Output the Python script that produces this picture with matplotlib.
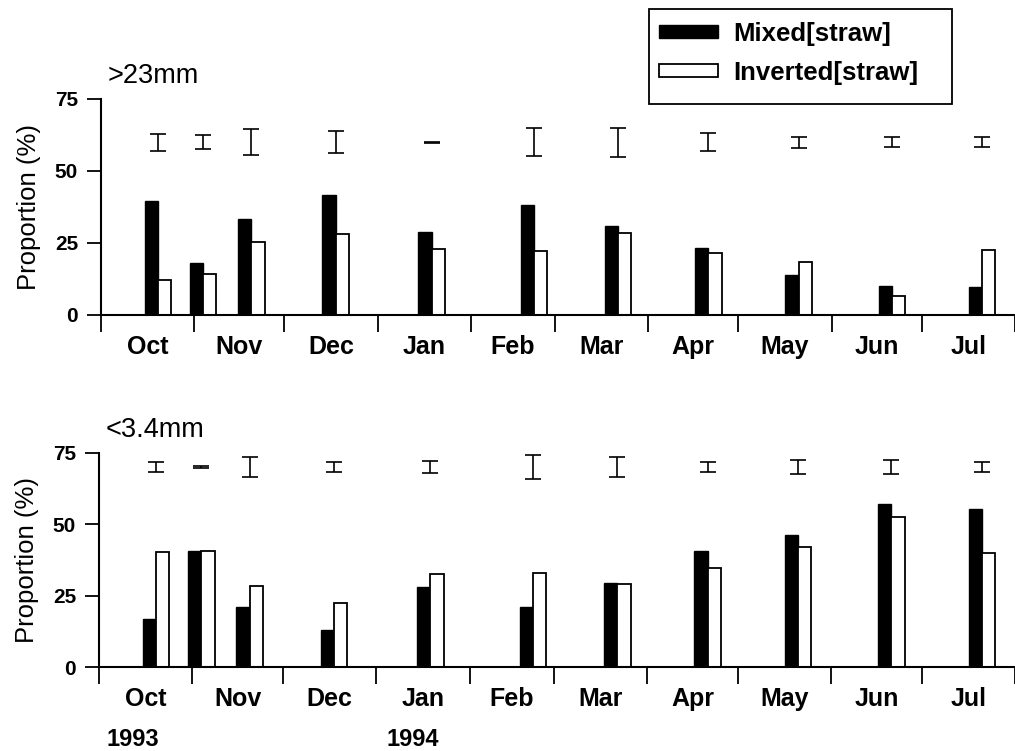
import numpy as np
import pandas as pd
import matplotlib
matplotlib.use("Agg")
import matplotlib.pyplot as plt
from matplotlib.patches import Rectangle

plt.rcParams['font.family'] = ['Liberation Sans', 'DejaVu Sans']

# sampling dates (same for both size classes)
dates = ["1993-10-20", "1993-11-04", "1993-11-20", "1993-12-18", "1994-01-19",
         "1994-02-22", "1994-03-22", "1994-04-21", "1994-05-21", "1994-06-21",
         "1994-07-21"]
months = ["Oct", "Nov", "Dec", "Jan", "Feb", "Mar", "Apr", "May", "Jun", "Jul"]

# >23mm fraction
big_mixed = [39.6, 17.9, 33.2, 41.7, 28.9, 38.2, 30.9, 23.1, 13.9, 10.1, 9.6]
big_inverted = [12.2, 14.2, 25.2, 28.1, 22.8, 22.3, 28.6, 21.4, 18.5, 6.6, 22.6]
big_err = [3.0, 2.5, 4.5, 3.9, 0.2, 4.9, 5.0, 3.1, 1.9, 1.7, 1.7]

# <3.4mm fraction
small_mixed = [16.8, 40.6, 21.0, 13.0, 28.2, 21.2, 29.3, 40.7, 46.1, 57.0, 55.2]
small_inverted = [40.4, 40.6, 28.5, 22.6, 32.5, 32.8, 29.2, 34.7, 42.1, 52.6, 39.8]
small_err = [1.8, 0.4, 3.6, 1.9, 2.1, 4.3, 3.5, 1.7, 2.6, 2.3, 1.8]

origin = pd.Timestamp("1993-10-01")
days = np.array([(pd.Timestamp(d) - origin).days for d in dates], dtype=float)
month_starts = pd.date_range("1993-10-01", "1994-08-01", freq="MS")
mstart = np.array([(m - origin).days for m in month_starts], dtype=float)
mmid = (mstart[:-1] + mstart[1:]) / 2

fig = plt.figure(figsize=(10.15, 7.51), dpi=100)
ax1 = fig.add_axes([0.0995, 0.5806, 0.9005, 0.2876])
ax2 = fig.add_axes([0.0975, 0.1115, 0.9025, 0.2857])

w = 4.4


def panel(ax, mixed, inverted, err, errpos, title):
    ax.bar(days - w / 2, mixed, w, color="black", edgecolor="black", lw=1.0,
           label="Mixed[straw]")
    ax.bar(days + w / 2, inverted, w, color="white", edgecolor="black", lw=1.3,
           label="Inverted[straw]")
    ax.errorbar(days, [errpos] * len(days), yerr=err, fmt="none",
                ecolor="black", elinewidth=1.2, capsize=6, capthick=1.2)
    ax.set_xlim(0, 302)
    ax.set_ylim(0, 75)
    for s in ["top", "right"]:
        ax.spines[s].set_visible(False)
    ax.spines["left"].set_linewidth(1.5)
    ax.spines["bottom"].set_linewidth(1.5)
    ax.set_yticks([0, 25, 50, 75])
    ax.tick_params(axis="y", direction="out", length=10, width=1.3,
                   labelsize=15, pad=6.5)
    for t in ax.get_yticklabels():
        t.set_fontweight("bold")
    ax.set_xticks(mstart)
    ax.set_xticklabels([])
    ax.tick_params(axis="x", which="major", direction="out", length=12,
                   width=1.3)
    ax.set_xticks(mmid, minor=True)
    ax.set_xticklabels(months, minor=True, fontsize=18, fontweight="bold")
    ax.tick_params(axis="x", which="minor", length=0, pad=14.5)
    ax.set_ylabel("Proportion (%)", fontsize=18.5, labelpad=10)
    ax.text(0.007, 1.045, title, transform=ax.transAxes, fontsize=19.5,
            ha="left", va="bottom")


panel(ax1, big_mixed, big_inverted, big_err, 60, ">23mm")
panel(ax2, small_mixed, small_inverted, small_err, 70, "<3.4mm")

fig.text(0.105, 0.006, "1993", fontsize=17, fontweight="bold")
fig.text(0.381, 0.006, "1994", fontsize=17, fontweight="bold")

handles, labels = ax1.get_legend_handles_labels()
leg = fig.legend(handles, labels, loc="upper left",
                 bbox_to_anchor=(0.649, 0.971), frameon=False,
                 prop={"size": 18.5, "weight": "bold"}, handlelength=2.3,
                 handleheight=0.4, borderpad=0, labelspacing=0.58,
                 handletextpad=0.6, borderaxespad=0)
# legend box
fig.patches.append(Rectangle((0.6394, 0.8615), 0.2985, 0.1265,
                             transform=fig.transFigure, fill=False,
                             edgecolor="black", lw=1.3))

fig.savefig("out.png", dpi=100)
